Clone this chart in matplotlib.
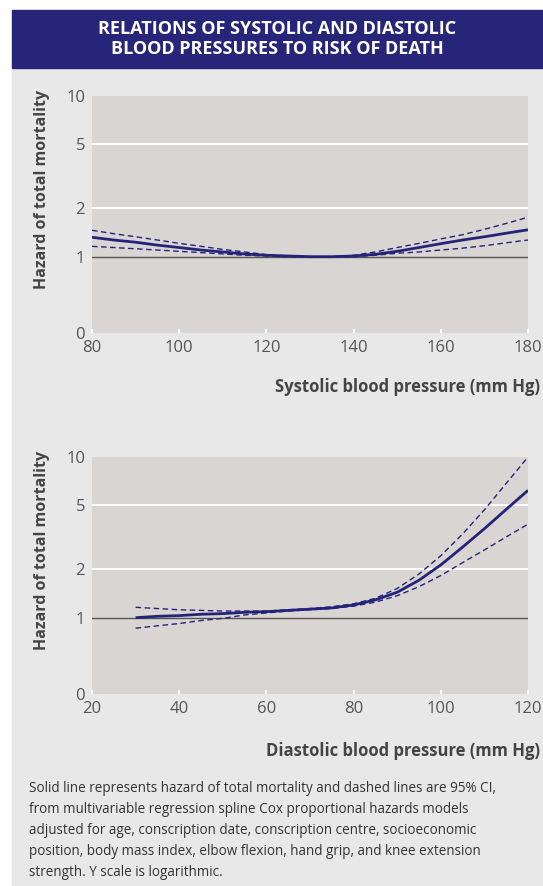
import numpy as np
import matplotlib.pyplot as plt
from matplotlib.patches import Rectangle
from matplotlib.ticker import FixedLocator, NullLocator

# ---------------------------------- data ----------------------------------- #
sys_x = [80, 85, 90, 95, 100, 105, 110, 115, 120, 125, 130, 135, 140, 145, 150,
         155, 160, 165, 170, 175, 180]
sys_hr = [1.32, 1.27, 1.23, 1.18, 1.14, 1.10, 1.07, 1.04, 1.02, 1.01, 1.00, 1.00,
          1.01, 1.035, 1.08, 1.14, 1.205, 1.27, 1.33, 1.40, 1.47]
sys_hi = [1.46, 1.39, 1.33, 1.27, 1.21, 1.16, 1.11, 1.07, 1.03, 1.01, 1.00, 1.00,
          1.02, 1.07, 1.14, 1.21, 1.29, 1.37, 1.48, 1.61, 1.76]
sys_lo = [1.16, 1.14, 1.12, 1.10, 1.08, 1.06, 1.04, 1.02, 1.01, 1.00, 1.00, 1.00,
          1.00, 1.02, 1.05, 1.07, 1.10, 1.13, 1.17, 1.22, 1.27]

dia_x = [30, 35, 40, 45, 50, 55, 60, 65, 70, 75, 80, 85, 90, 95, 100, 105, 110, 115, 120]
dia_hr = [1.00, 1.02, 1.03, 1.05, 1.06, 1.08, 1.09, 1.11, 1.13, 1.15, 1.20, 1.29,
          1.44, 1.71, 2.13, 2.75, 3.58, 4.72, 6.20]
dia_hi = [1.16, 1.14, 1.12, 1.11, 1.10, 1.10, 1.10, 1.12, 1.14, 1.17, 1.22, 1.32,
          1.52, 1.87, 2.43, 3.32, 4.69, 6.85, 10.0]
dia_lo = [0.86, 0.89, 0.92, 0.96, 0.99, 1.04, 1.07, 1.10, 1.12, 1.14, 1.18, 1.25,
          1.37, 1.56, 1.83, 2.20, 2.64, 3.18, 3.82]

y_ticks = [0.335, 1, 2, 5, 10]
y_labels = ["0", "1", "2", "5", "10"]

title = "RELATIONS OF SYSTOLIC AND DIASTOLIC\nBLOOD PRESSURES TO RISK OF DEATH"
footnote = ("Solid line represents hazard of total mortality and dashed lines are 95% CI,\n"
            "from multivariable regression spline Cox proportional hazards models\n"
            "adjusted for age, conscription date, conscription centre, socioeconomic\n"
            "position, body mass index, elbow flexion, hand grip, and knee extension\n"
            "strength. Y scale is logarithmic.")

# --------------------------------- styling --------------------------------- #
plt.rcParams['font.family'] = ['Open Sans', 'DejaVu Sans']
NAVY = "#24237a"
W, H = 543, 886

fig = plt.figure(figsize=(W / 100, H / 100), dpi=100)
fig.patch.set_facecolor("white")

# background panel and title bar (drawn beneath the axes)
fig.patches.append(Rectangle((12 / W, 0), 1 - 12 / W, 1 - 68 / H,
                             transform=fig.transFigure, color="#e8e8e8", zorder=-10))
fig.patches.append(Rectangle((12 / W, 1 - 68 / H), 1 - 12 / W, 58 / H,
                             transform=fig.transFigure, color="#26257a", zorder=-10))
fig.text((12 + 543) / 2 / W, 1 - 39 / H, title, color="white", fontsize=13,
         fontweight="bold", ha="center", va="center", linespacing=1.15)


def panel(top_px, x, hr, hi, lo, xlim, xticks, xlabel, xlabel_y):
    ax = fig.add_axes([92 / W, 1 - (top_px + 237) / H, 436 / W, 237 / H])
    ax.set_facecolor("#d9d5d2")
    ax.set_yscale("log")
    ax.set_ylim(y_ticks[0], 10)
    ax.set_xlim(*xlim)
    for s in ax.spines.values():
        s.set_visible(False)
    ax.yaxis.set_major_locator(FixedLocator(y_ticks))
    ax.set_yticklabels(y_labels)
    ax.yaxis.set_minor_locator(NullLocator())
    ax.set_xticks(xticks)
    ax.tick_params(axis="y", length=0, pad=5, labelsize=12, labelcolor="#555555")
    ax.tick_params(axis="x", direction="in", length=3, width=1.5, color="white",
                   pad=5, labelsize=12, labelcolor="#555555")
    for g in (2, 5):
        ax.axhline(g, color="white", lw=1.5, zorder=1)
    ax.axhline(1, color="#555555", lw=1, zorder=2)
    ax.plot(x, hr, color=NAVY, lw=2.0, zorder=4, solid_capstyle="butt")
    ax.plot(x, hi, color=NAVY, lw=1.0, ls=(0, (4, 2.5)), zorder=3)
    ax.plot(x, lo, color=NAVY, lw=1.0, ls=(0, (4, 2.5)), zorder=3)
    fig.text(42 / W, 1 - (top_px - 6) / H, "Hazard of total mortality", rotation=90,
             fontsize=11.5, fontweight="bold", color="#444444", ha="center", va="top")
    fig.text(540 / W, 1 - xlabel_y / H, xlabel, fontsize=12, fontweight="bold",
             color="#444444", ha="right", va="center")
    return ax


panel(96, sys_x, sys_hr, sys_hi, sys_lo, (80, 180), range(80, 181, 20),
      "Systolic blood pressure (mm Hg)", 387)
panel(457, dia_x, dia_hr, dia_hi, dia_lo, (20, 120), range(20, 121, 20),
      "Diastolic blood pressure (mm Hg)", 751)

fig.text(29 / W, 1 - 781 / H, footnote, fontsize=9.75, color="#333333",
         ha="left", va="top", linespacing=1.55)

fig.savefig("out.png", dpi=100)
